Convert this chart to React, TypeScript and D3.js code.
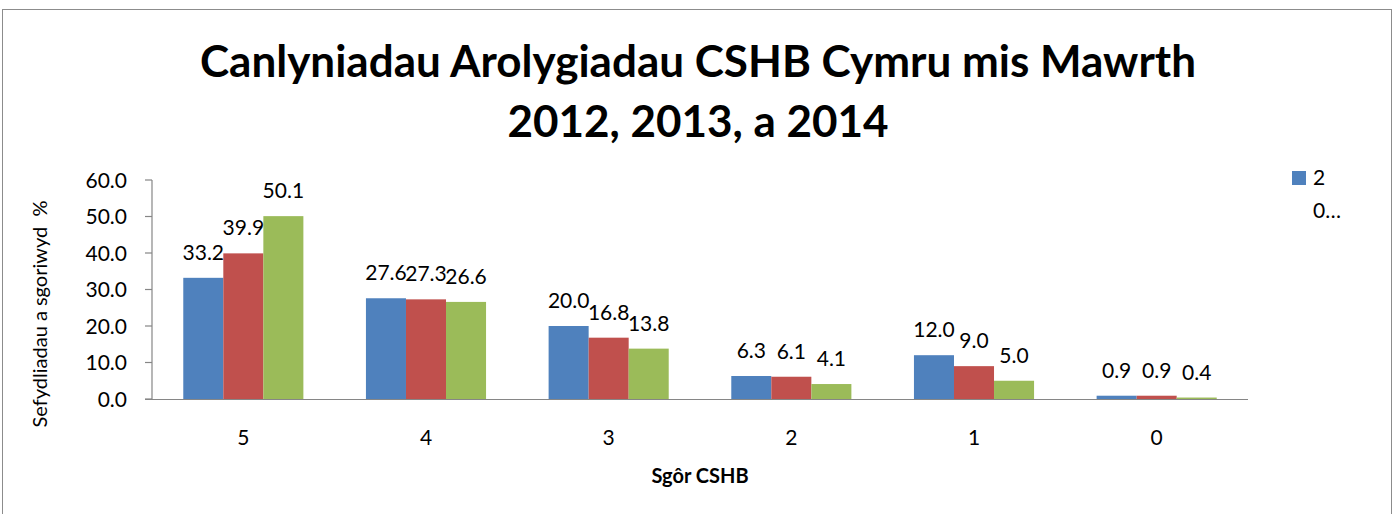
import React from "react";
import * as d3 from "d3";

const categories = ["5", "4", "3", "2", "1", "0"];
const series2012 = [33.2, 27.6, 20.0, 6.3, 12.0, 0.9];
const series2013 = [39.9, 27.3, 16.8, 6.1, 9.0, 0.9];
const series2014 = [50.1, 26.6, 13.8, 4.1, 5.0, 0.4];
const seriesNames = ["2012", "2013", "2014"];
const seriesColors = ["#4F81BD", "#C0504D", "#9BBB59"];
const yTicks = [0, 10, 20, 30, 40, 50, 60];

const W = 1396;
const H = 514;
const FONT = "Lato, 'Open Sans', sans-serif";

export default function App() {
  const y = d3.scaleLinear().domain([0, 60]).range([399, 180]);
  const x0 = d3.scaleBand().domain(categories).range([152, 1248]).paddingInner(0.3425).paddingOuter(0.1712);
  const x1 = d3.scaleBand().domain(seriesNames).range([0, x0.bandwidth()]);
  const allSeries = [series2012, series2013, series2014];

  return (
    <svg width={W} height={H} style={{ position: "absolute", left: 0, top: 0, display: "block" }}>
      <rect x={0} y={0} width={W} height={H} fill="#fff" />
      <rect x={2.5} y={9.5} width={1389} height={520} fill="#fff" stroke="#8c8c8c" strokeWidth={1} />
      <text x={698} y={77} textAnchor="middle" fontFamily={FONT} fontWeight="bold" fontSize={44} fill="#000">
        Canlyniadau Arolygiadau CSHB Cymru mis Mawrth
      </text>
      <text x={698} y={137} textAnchor="middle" fontFamily={FONT} fontWeight="bold" fontSize={44} fill="#000">
        2012, 2013, a 2014
      </text>

      {/* y axis */}
      <line x1={152} x2={152} y1={180} y2={399.5} stroke="#868686" strokeWidth={1.2} />
      {yTicks.map((t) => (
        <g key={t}>
          <line x1={145} x2={152} y1={y(t)} y2={y(t)} stroke="#868686" strokeWidth={1.2} />
          <text x={127} y={y(t) + 7.5} textAnchor="end" fontFamily={FONT} fontSize={21} fill="#000">
            {t.toFixed(1)}
          </text>
        </g>
      ))}
      {/* bars */}
      {categories.map((c, i) => (
        <g key={c} transform={`translate(${x0(c)},0)`}>
          {allSeries.map((s, j) => (
            <rect
              key={j}
              x={x1(seriesNames[j])}
              y={y(s[i])}
              width={x1.bandwidth()}
              height={y(0) - y(s[i])}
              fill={seriesColors[j]}
            />
          ))}
          {allSeries.map((s, j) => (
            <text
              key={"l" + j}
              x={(x1(seriesNames[j]) as number) + x1.bandwidth() / 2}
              y={y(s[i]) - 18}
              textAnchor="middle"
              fontFamily={FONT}
              fontSize={21}
              fill="#000"
            >
              {s[i].toFixed(1)}
            </text>
          ))}
          <text x={x0.bandwidth() / 2} y={445} textAnchor="middle" fontFamily={FONT} fontSize={21} fill="#000">
            {c}
          </text>
        </g>
      ))}
      {/* x axis */}
      <line x1={145} x2={1248} y1={399.5} y2={399.5} stroke="#868686" strokeWidth={1.2} />

      <text x={700} y={483} textAnchor="middle" fontFamily={FONT} fontWeight="bold" fontSize={20} fill="#000">
        Sgôr CSHB
      </text>
      <text
        transform={`translate(47,314) rotate(-90)`}
        textAnchor="middle"
        fontFamily={FONT}
        fontSize={20}
        fill="#000"
        style={{ whiteSpace: "pre" }}
      >
        {"Sefydliadau a sgoriwyd  %"}
      </text>

      {/* legend */}
      <rect x={1292} y={171} width={14} height={14} fill={seriesColors[0]} />
      <text x={1313} y={185} fontFamily={FONT} fontSize={21} fill="#000">2</text>
      <text x={1313} y={218} fontFamily={FONT} fontSize={21} fill="#000">0…</text>
    </svg>
  );
}
